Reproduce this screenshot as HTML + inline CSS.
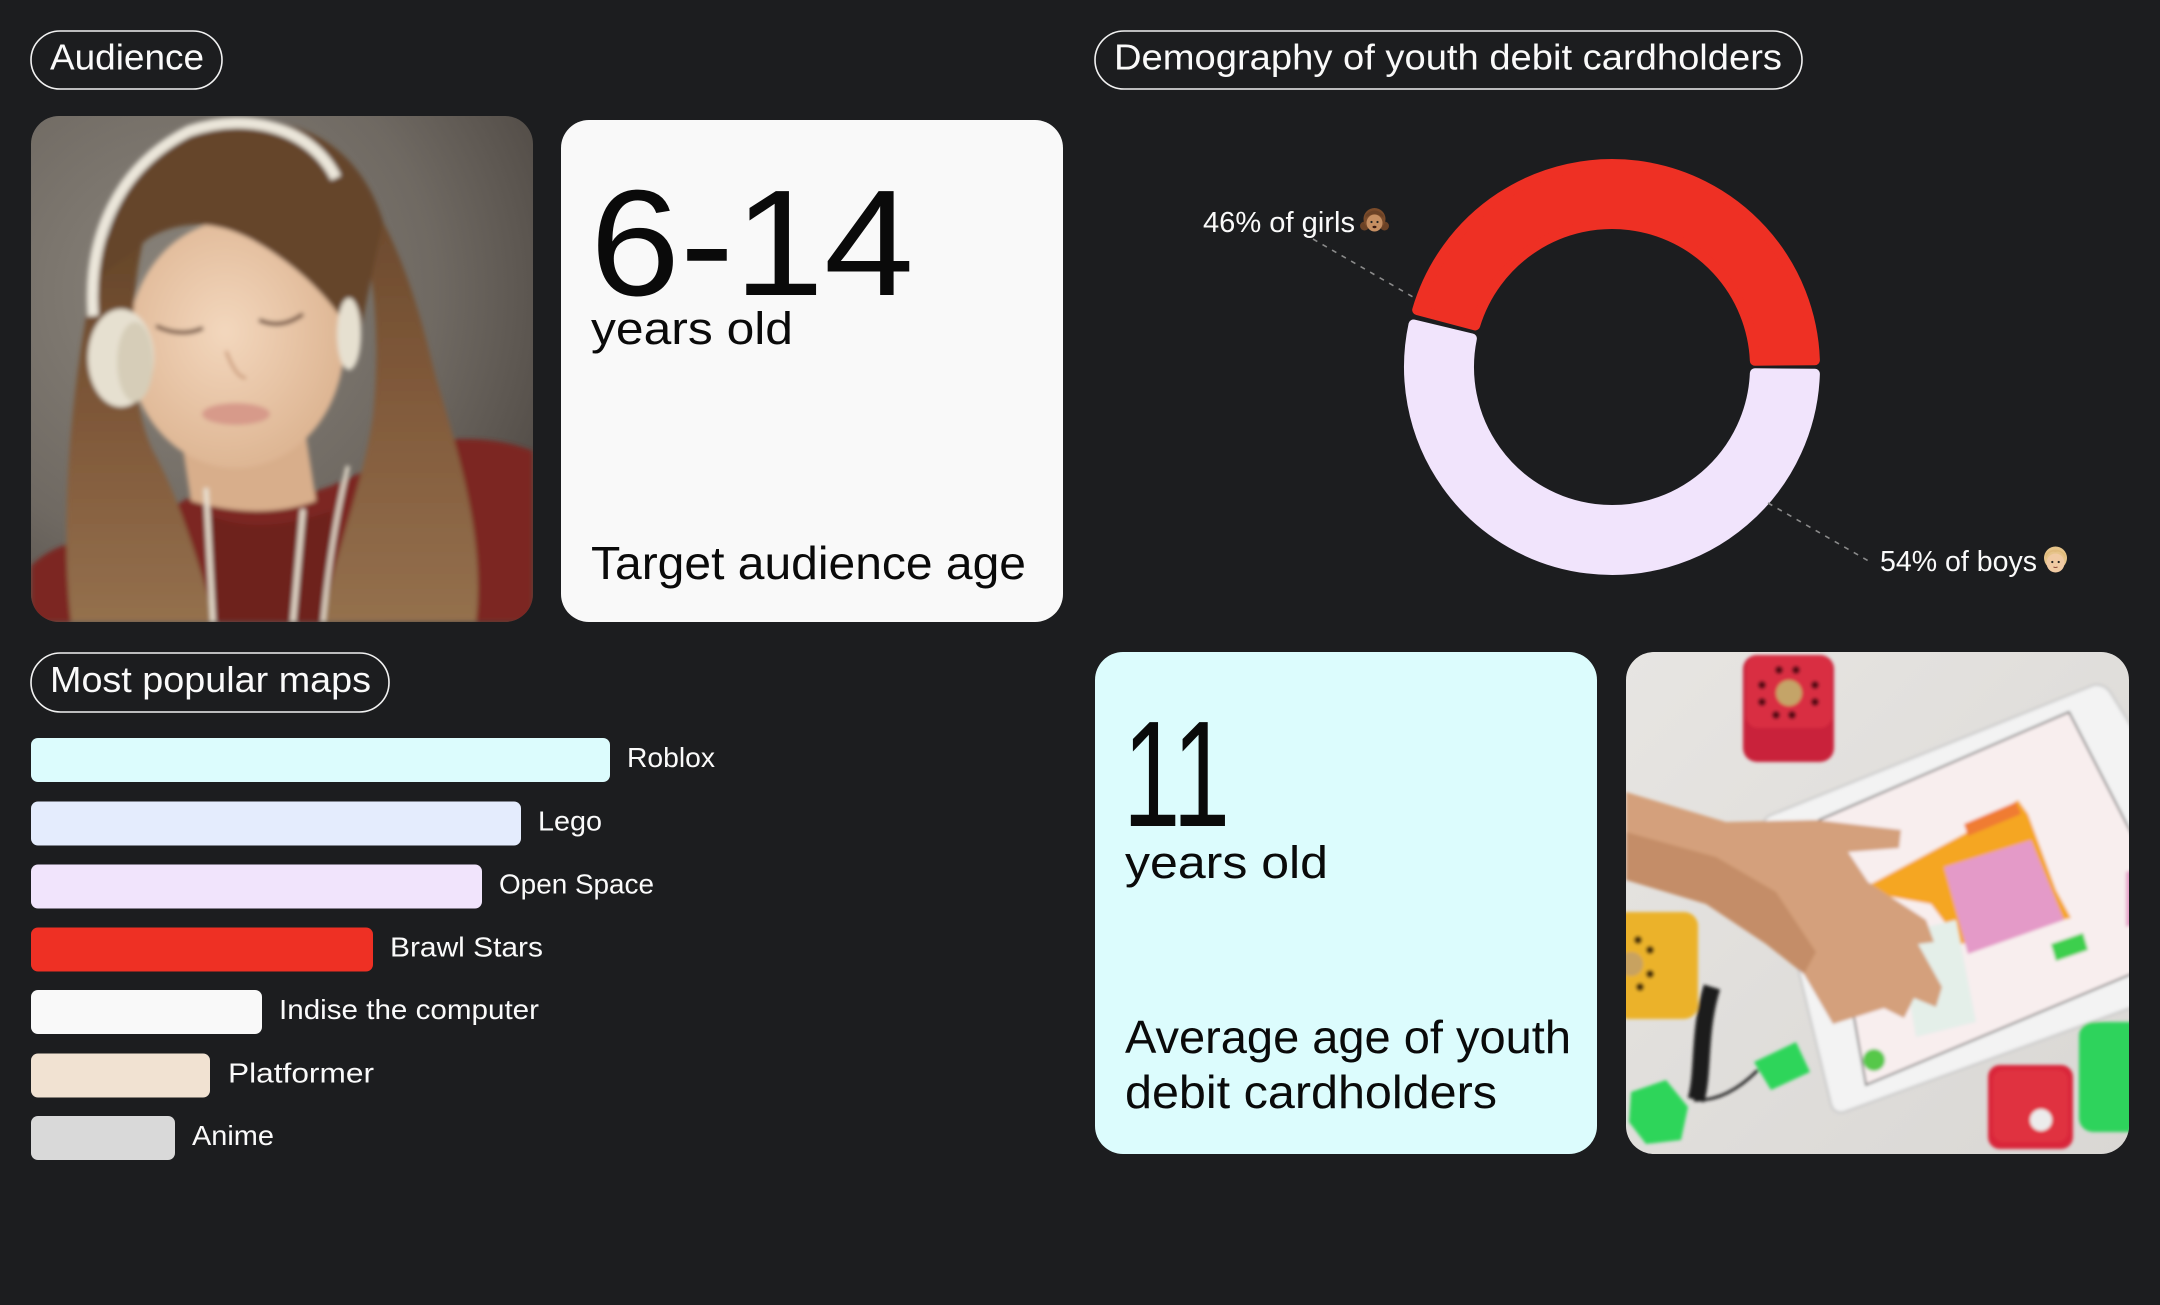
<!DOCTYPE html>
<html>
<head>
<meta charset="utf-8">
<style>
html,body{margin:0;padding:0;background:#1c1d1f;}
body{width:2160px;height:1305px;overflow:hidden;}
svg{display:block;}
text{font-family:"Liberation Sans",Arial,sans-serif;}
</style>
</head>
<body>
<svg width="2160" height="1305" viewBox="0 0 2160 1305" xmlns="http://www.w3.org/2000/svg">
<defs>
  <clipPath id="c1"><rect x="0" y="0" width="502" height="506" rx="28"/></clipPath>
  <clipPath id="c2"><rect x="0" y="0" width="503" height="502" rx="28"/></clipPath>
  <radialGradient id="gbg" cx="0.3" cy="0.35" r="0.85">
    <stop offset="0" stop-color="#8a847b"/>
    <stop offset="0.6" stop-color="#6f6962"/>
    <stop offset="1" stop-color="#4c4641"/>
  </radialGradient>
  <linearGradient id="ghair" x1="0" y1="0" x2="0" y2="1">
    <stop offset="0" stop-color="#654529"/>
    <stop offset="0.5" stop-color="#80593a"/>
    <stop offset="1" stop-color="#94704d"/>
  </linearGradient>
  <radialGradient id="gface" cx="0.45" cy="0.45" r="0.6">
    <stop offset="0" stop-color="#f3d7bd"/>
    <stop offset="1" stop-color="#dcb390"/>
  </radialGradient>
  <linearGradient id="gtab" x1="0" y1="0" x2="1" y2="1">
    <stop offset="0" stop-color="#e7e5e2"/>
    <stop offset="1" stop-color="#d9d7d4"/>
  </linearGradient>
  <filter id="soft" x="-5%" y="-5%" width="110%" height="110%"><feGaussianBlur stdDeviation="2.5"/></filter>
  <filter id="soft2" x="-5%" y="-5%" width="110%" height="110%"><feGaussianBlur stdDeviation="1.5"/></filter>
</defs>

<!-- Pills -->
<rect x="31" y="31" width="191" height="58" rx="29" fill="none" stroke="#f2f2f2" stroke-width="1.6"/>
<text x="50" y="69.5" font-size="36" fill="#fafafa" textLength="154" lengthAdjust="spacingAndGlyphs">Audience</text>

<rect x="1095" y="31" width="707" height="58" rx="29" fill="none" stroke="#f2f2f2" stroke-width="1.6"/>
<text x="1114" y="69.5" font-size="36" fill="#fafafa" textLength="668" lengthAdjust="spacingAndGlyphs">Demography of youth debit cardholders</text>

<rect x="31" y="653" width="358" height="59" rx="29.5" fill="none" stroke="#f2f2f2" stroke-width="1.6"/>
<text x="50" y="692" font-size="36" fill="#fafafa" textLength="321" lengthAdjust="spacingAndGlyphs">Most popular maps</text>

<!-- Girl photo -->
<g transform="translate(31,116)">
 <g clip-path="url(#c1)">
  <rect x="0" y="0" width="502" height="506" fill="url(#gbg)"/>
  <g filter="url(#soft)">
   <!-- hoodie -->
   <path d="M0,506 L0,450 Q30,420 80,425 L170,375 Q230,395 300,370 L400,325 Q460,318 502,335 L502,506 Z" fill="#7b2723"/>
   <path d="M180,400 Q230,420 300,395 L300,506 L180,506 Z" fill="#6e201e"/>
   <!-- neck -->
   <path d="M150,320 L275,320 L285,385 Q230,405 160,385 Z" fill="#d8ae8b"/>
   <!-- face -->
   <ellipse cx="205" cy="228" rx="108" ry="124" fill="url(#gface)"/>
   <!-- hair curtains -->
   <path d="M72,120 C40,250 28,400 40,506 L185,506 C168,450 150,385 122,335 C100,290 95,200 112,125 Z" fill="url(#ghair)"/>
   <path d="M298,55 C340,100 352,200 342,300 C332,370 305,430 292,506 L445,506 C455,420 425,330 405,262 C385,180 362,100 305,38 Z" fill="url(#ghair)"/>
   <!-- crown + bangs -->
   <path d="M70,160 C78,65 140,12 210,6 C280,0 332,40 352,105 L330,212 L314,208 C298,182 268,152 232,130 C200,110 160,98 118,122 Z" fill="#654529"/>
   <!-- facial details -->
   <path d="M125,210 Q150,222 172,212" stroke="#6b4a37" stroke-width="4" fill="none"/>
   <path d="M228,204 Q250,214 272,198" stroke="#6b4a37" stroke-width="4" fill="none"/>
   <ellipse cx="205" cy="298" rx="34" ry="11" fill="#d79a8a"/>
   <path d="M195,235 Q205,262 215,262" stroke="#c99878" stroke-width="3" fill="none"/>
   <!-- headphones -->
   <path d="M62,200 C56,120 88,50 158,15 C220,-6 282,14 305,62" stroke="#ebe6da" stroke-width="11" fill="none"/>
   <ellipse cx="90" cy="242" rx="33" ry="49" fill="#e6e0d0"/>
   <ellipse cx="104" cy="246" rx="18" ry="40" fill="#d6cdb8"/>
   <ellipse cx="318" cy="218" rx="12" ry="36" fill="#e6e0d0"/>
   <!-- cords -->
   <path d="M175,372 L182,506" stroke="#e8e0d0" stroke-width="5" fill="none"/>
   <path d="M317,350 Q300,420 292,506" stroke="#e8e0d0" stroke-width="4" fill="none"/>
   <path d="M272,393 L262,506" stroke="#e8e0d0" stroke-width="5" fill="none"/>
  </g>
 </g>
</g>

<!-- Card 1 -->
<rect x="561" y="120" width="502" height="502" rx="28" fill="#f9f9f9"/>
<text x="590" y="295" font-size="151" fill="#0a0a0a" textLength="324" lengthAdjust="spacingAndGlyphs">6-14</text>
<text x="591" y="344" font-size="45" fill="#0a0a0a" textLength="202" lengthAdjust="spacingAndGlyphs">years old</text>
<text x="591" y="579" font-size="46" fill="#0a0a0a" textLength="435" lengthAdjust="spacingAndGlyphs">Target audience age</text>

<!-- Donut -->
<g stroke-linejoin="round" stroke-width="10">
 <path d="M1814.89,360.23 A203,203 0 0 0 1417.18,309.99 L1475.18,325.43 A143,143 0 0 1 1754.86,360.76 Z" fill="#ee3024" stroke="#ee3024"/>
 <path d="M1413.50,324.48 A203,203 0 1 0 1814.89,373.77 L1754.86,373.24 A143,143 0 1 1 1471.87,338.49 Z" fill="#f1e4fc" stroke="#f1e4fc"/>
</g>
<line x1="1313" y1="239" x2="1413" y2="297" stroke="#8a8a8a" stroke-width="1.6" stroke-dasharray="5 6"/>
<line x1="1768" y1="503" x2="1872" y2="563" stroke="#8a8a8a" stroke-width="1.6" stroke-dasharray="5 6"/>
<text x="1203" y="232" font-size="29" fill="#fafafa" textLength="152" lengthAdjust="spacingAndGlyphs">46% of girls</text>
<text x="1880" y="571" font-size="29" fill="#fafafa" textLength="157" lengthAdjust="spacingAndGlyphs">54% of boys</text>
<!-- girl emoji -->
<g transform="translate(1374.5,220)">
 <circle cx="-10" cy="6" r="4.5" fill="#6b4226"/>
 <circle cx="10" cy="6" r="4.5" fill="#6b4226"/>
 <circle cx="0" cy="-1" r="11" fill="#7a4b2a"/>
 <ellipse cx="0" cy="3" rx="8" ry="8.5" fill="#c68f62"/>
 <path d="M-9,-2 Q0,-10 9,-2 L9,-5 Q0,-14 -9,-5 Z" fill="#6b4226"/>
 <circle cx="-3" cy="2" r="1.1" fill="#222"/>
 <circle cx="3" cy="2" r="1.1" fill="#222"/>
 <ellipse cx="0" cy="7" rx="2" ry="1.2" fill="#3a1a10"/>
</g>
<!-- boy emoji -->
<g transform="translate(2055.5,560)">
 <circle cx="0" cy="-2" r="11.5" fill="#e6c48a"/>
 <ellipse cx="0" cy="3" rx="9" ry="9.5" fill="#f0caa3"/>
 <path d="M-10,-1 Q-6,-10 0,-8 Q6,-10 10,-1 L10,-6 Q0,-15 -10,-6 Z" fill="#e0bb7c"/>
 <circle cx="-3.2" cy="2" r="1.1" fill="#222"/>
 <circle cx="3.2" cy="2" r="1.1" fill="#222"/>
 <path d="M-2,7 Q0,8 2,7" stroke="#8a4a3a" stroke-width="1" fill="none"/>
</g>

<!-- Bars -->
<rect x="31" y="738" width="579" height="44" rx="7" fill="#dcfcfd"/>
<text x="627" y="767" font-size="28" fill="#fafafa" textLength="88" lengthAdjust="spacingAndGlyphs">Roblox</text>
<rect x="31" y="801.5" width="490" height="44" rx="7" fill="#e4ecfd"/>
<text x="538" y="830.5" font-size="28" fill="#fafafa" textLength="64" lengthAdjust="spacingAndGlyphs">Lego</text>
<rect x="31" y="864.5" width="451" height="44" rx="7" fill="#f1e4fc"/>
<text x="499" y="893.5" font-size="28" fill="#fafafa" textLength="155" lengthAdjust="spacingAndGlyphs">Open Space</text>
<rect x="31" y="927.5" width="342" height="44" rx="7" fill="#ee3024"/>
<text x="390" y="956.5" font-size="28" fill="#fafafa" textLength="153" lengthAdjust="spacingAndGlyphs">Brawl Stars</text>
<rect x="31" y="990" width="231" height="44" rx="7" fill="#f9f9f9"/>
<text x="279" y="1019" font-size="28" fill="#fafafa" textLength="260" lengthAdjust="spacingAndGlyphs">Indise the computer</text>
<rect x="31" y="1053.5" width="179" height="44" rx="7" fill="#f1e2d2"/>
<text x="228" y="1082.5" font-size="28" fill="#fafafa" textLength="146" lengthAdjust="spacingAndGlyphs">Platformer</text>
<rect x="31" y="1116" width="144" height="44" rx="7" fill="#d9d9d9"/>
<text x="192" y="1145" font-size="28" fill="#fafafa" textLength="82" lengthAdjust="spacingAndGlyphs">Anime</text>

<!-- Card 2 -->
<rect x="1095" y="652" width="502" height="502" rx="28" fill="#dcfcfd"/>
<text x="1123" y="826" font-size="151" fill="#0a0a0a" textLength="107" lengthAdjust="spacingAndGlyphs">11</text>
<text x="1125" y="878" font-size="45" fill="#0a0a0a" textLength="203" lengthAdjust="spacingAndGlyphs">years old</text>
<text x="1125" y="1053" font-size="46" fill="#0a0a0a" textLength="446" lengthAdjust="spacingAndGlyphs">Average age of youth</text>
<text x="1125" y="1108" font-size="46" fill="#0a0a0a" textLength="372" lengthAdjust="spacingAndGlyphs">debit cardholders</text>

<!-- Tablet photo -->
<g transform="translate(1626,652)">
 <g clip-path="url(#c2)">
  <rect x="0" y="0" width="503" height="502" fill="url(#gtab)"/>
  <g filter="url(#soft2)">
   <!-- tablet -->
   <path d="M468,33 Q478,32 484,40 L515,90 L515,352 L218,460 Q208,462 205,452 L138,175 Q136,167 145,163 Z" fill="#f3f3f3" stroke="#c8c8c8" stroke-width="2"/>
   <path d="M443,60 L515,200 L515,318 L240,433 L193,168 Z" fill="#f8eeee" stroke="#3a3a3a" stroke-width="1.5"/>
   <!-- code blocks -->
   <path d="M245,232 L338,182 L392,148 L402,162 L430,238 L445,266 L335,292 L305,252 L250,242 Z" fill="#f5a623"/>
   <path d="M318,215 L405,188 L438,268 L342,302 Z" fill="#e49ac8"/>
   <path d="M338,172 L390,150 L395,162 L342,184 Z" fill="#f07b30"/>
   <path d="M425,292 L457,281 L462,298 L430,309 Z" fill="#3ccf4e"/>
   <path d="M500,220 L515,215 L515,270 L500,275 Z" fill="#e6a0c8"/>
   <path d="M272,282 L330,268 L350,370 L290,385 Z" fill="#e4efe9"/>
   <circle cx="248" cy="408" r="11" fill="#56c84a"/>
   <!-- hand -->
   <path d="M0,140 L100,170 L190,168 L275,178 L273,196 L222,200 L242,230 L300,268 L308,290 L292,292 L316,335 L310,355 L288,346 L278,366 L258,356 L207,372 L178,322 L140,292 L80,252 L0,228 Z" fill="#d4a07b"/>
   <path d="M0,180 L90,205 L150,240 L190,300 L178,322 L140,292 L80,252 L0,228 Z" fill="#c48d68"/>
   <!-- red cube top -->
   <rect x="117" y="3" width="91" height="107" rx="14" fill="#c9233a"/>
   <rect x="120" y="4" width="86" height="72" rx="12" fill="#d92e42"/>
   <circle cx="163" cy="41" r="13" fill="#c4a468"/>
   <g fill="#5a0f18">
    <circle cx="153" cy="18" r="4"/><circle cx="170" cy="18" r="4"/>
    <circle cx="136" cy="33" r="4"/><circle cx="189" cy="33" r="4"/>
    <circle cx="136" cy="50" r="4"/><circle cx="189" cy="50" r="4"/>
    <circle cx="150" cy="63" r="4"/><circle cx="166" cy="63" r="4"/>
   </g>
   <!-- yellow cube -->
   <rect x="-12" y="260" width="84" height="107" rx="14" fill="#ebb22c"/>
   <circle cx="5" cy="312" r="12" fill="#c8a260"/>
   <g fill="#4a3208"><circle cx="12" cy="288" r="4"/><circle cx="24" cy="298" r="4"/><circle cx="24" cy="322" r="4"/><circle cx="14" cy="335" r="4"/></g>
   <!-- cable -->
   <path d="M86,335 C72,380 78,420 70,448" stroke="#1f1f1f" stroke-width="17" fill="none"/>
   <path d="M68,448 Q100,450 132,418" stroke="#222" stroke-width="3" fill="none"/>
   <!-- green connectors -->
   <path d="M128,410 L170,390 L184,420 L145,438 Z" fill="#2fd55a"/>
   <path d="M5,440 L40,428 L62,455 L55,488 L20,492 L3,470 Z" fill="#2fd55a"/>
   <!-- red small cube -->
   <rect x="362" y="413" width="85" height="84" rx="12" fill="#d9283a"/>
   <rect x="367" y="418" width="75" height="72" rx="10" fill="#e0303f"/>
   <circle cx="415" cy="468" r="11" fill="#ececec"/>
   <!-- green cube right -->
   <rect x="453" y="370" width="70" height="110" rx="14" fill="#2ed35b"/>
  </g>
 </g>
</g>
</svg>
</body>
</html>
